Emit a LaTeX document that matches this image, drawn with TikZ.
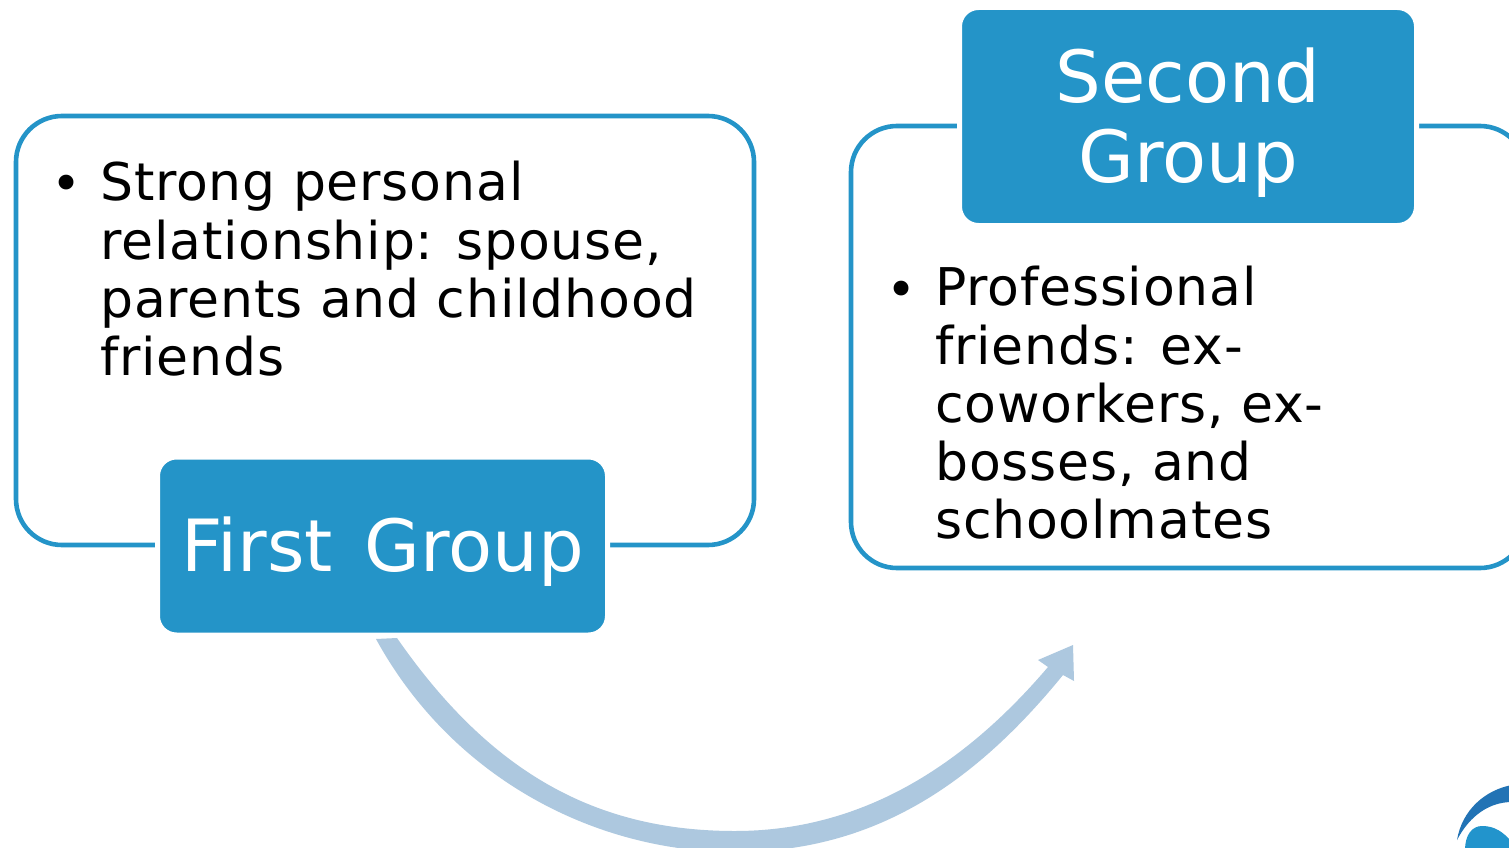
\documentclass[tikz,border=0pt]{standalone}
\usepackage{fontspec}
\setmainfont{DejaVu Sans}
\newfontfamily\spaced[LetterSpace=1.6]{DejaVu Sans}
\definecolor{hdr}{HTML}{2494C8}
\definecolor{arc}{HTML}{ADC8DF}
\definecolor{logoA}{HTML}{2273B5}
\definecolor{logoB}{HTML}{2294CC}
\tikzset{
  outline/.style={draw=hdr,line width=4.6pt,fill=white,rounded corners=46pt},
  header/.style={fill=hdr,draw=white,line width=5pt,rounded corners=19pt,inner sep=0pt,text=white,align=center,font=\fontsize{72}{80}\selectfont},
  body/.style={inner sep=0pt,align=left,text=black,anchor=north west,font=\spaced\fontsize{52}{58.3}\selectfont},
  bul/.style={inner sep=0pt,text=black,font=\fontsize{51}{58.3}\selectfont}
}
\begin{document}
\begin{tikzpicture}[x=1pt,y=-1pt]
\useasboundingbox (0,0) rectangle (1509,848);
\clip (0,0) rectangle (1509,848);
\fill[white] (0,0) rectangle (1509,848);
% outlines
\draw[outline] (16,116) rectangle (754,545);
\draw[outline] (851,126) rectangle (1526,568);
% headers
\node[header,minimum width=450pt,minimum height=178pt] (first) at (382.5,546) {\rule{0pt}{66pt}First\hspace{9pt} Group};
\node[header,minimum width=457pt,minimum height=218pt] (second) at (1188,116.5) {\rule{0pt}{66pt}Second\\Group};
% bullets and body text
\node[bul] (b1) at (67,188) {•};
\node[body] (t1) at (100,161) {Strong personal\\relationship: spouse,\\parents and childhood\\friends};
\node[bul] (b2) at (902,294) {•};
\node[body] (t2) at (935,266) {Professional\\friends: ex-\\coworkers, ex-\\bosses, and\\schoolmates};
% curved arrow
\coordinate (as1) at (376,639);
\coordinate (as2) at (397,638);
\coordinate (tip) at (1073,645);
\fill[arc] (as1) .. controls (452,778) and (595,852) .. (735,852)
  .. controls (875,852) and (975,783) .. (1063,675)
  -- (1074,681) -- (tip) -- (1038,660) -- (1048,667)
  .. controls (962,768) and (860,831) .. (735,831)
  .. controls (595,831) and (490,772) .. (as2) -- cycle;
% logo
\fill[logoA] (1457,840) .. controls (1462,810) and (1485,790) .. (1512,785)
  -- (1512,802) .. controls (1490,802) and (1470,815) .. cycle;
\fill[logoB] (1465,850) .. controls (1465,835) and (1472,826) .. (1482,826)
  .. controls (1495,826) and (1503,832) .. (1512,842) -- (1512,850) -- cycle;
\end{tikzpicture}
\end{document}
